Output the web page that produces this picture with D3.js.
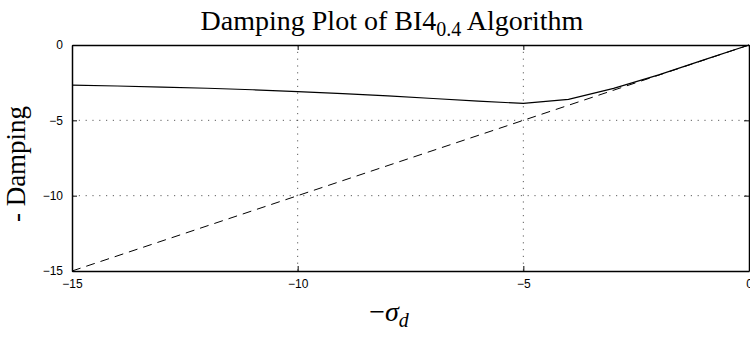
<!DOCTYPE html>
<html>
<head>
<meta charset="utf-8">
<script src="https://cdn.jsdelivr.net/npm/d3@7"></script>
<style>
  html, body { margin: 0; padding: 0; background: #fff; overflow: hidden; }
  svg { display: block; }
</style>
</head>
<body>
<svg id="chart" width="750" height="345"></svg>
<script>
// ---- data ----
const sigmaValues = [-15, -14, -13, -12, -11, -10, -9, -8, -7, -6, -5, -4, -3, -2, -1, 0];
const dampingValues = [-2.66, -2.72, -2.79, -2.87, -2.97, -3.09, -3.23, -3.38, -3.55, -3.72, -3.88, -3.61, -2.88, -1.98, -0.99, 0];
const referenceX = [-15, 0];
const referenceY = [-15, 0];
const xTicks = [-15, -10, -5, 0];
const yTicks = [-15, -10, -5, 0];

// ---- layout ----
const plotLeft = 72, plotRight = 749, plotTop = 45, plotBottom = 271;
const svg = d3.select("#chart");
const x = d3.scaleLinear().domain([-15, 0]).range([plotLeft, plotRight]);
const y = d3.scaleLinear().domain([-15, 0]).range([plotBottom, plotTop]);
const fmt = d => d < 0 ? "\u2212" + Math.abs(d) : String(d);

// grid
const grid = svg.append("g").attr("stroke", "#333").attr("stroke-width", 0.8)
  .attr("stroke-dasharray", "1.2,5.6");
grid.selectAll(".gx").data(xTicks.filter(d => d > -15 && d < 0)).join("line")
  .attr("x1", d => x(d)).attr("x2", d => x(d)).attr("y1", plotTop).attr("y2", plotBottom);
grid.selectAll(".gy").data(yTicks.filter(d => d > -15 && d < 0)).join("line")
  .attr("y1", d => y(d)).attr("y2", d => y(d)).attr("x1", plotLeft).attr("x2", plotRight);

// lines
const line = d3.line().x(d => x(d[0])).y(d => y(d[1]));
svg.append("path")
  .datum(referenceX.map((v, i) => [v, referenceY[i]]))
  .attr("d", line).attr("fill", "none").attr("stroke", "#000")
  .attr("stroke-width", 1).attr("stroke-dasharray", "9,6");
svg.append("path")
  .datum(sigmaValues.map((v, i) => [v, dampingValues[i]]))
  .attr("d", line).attr("fill", "none").attr("stroke", "#000")
  .attr("stroke-width", 1.2);

// axes (MATLAB style box, inward ticks)
const xAxisB = d3.axisBottom(x).tickValues(xTicks).tickFormat(fmt).tickSizeInner(-5).tickSizeOuter(0).tickPadding(8);
const xAxisT = d3.axisTop(x).tickValues(xTicks).tickFormat("").tickSizeInner(-5).tickSizeOuter(0);
const yAxisL = d3.axisLeft(y).tickValues(yTicks).tickFormat(fmt).tickSizeInner(-5).tickSizeOuter(0).tickPadding(9);
const yAxisR = d3.axisRight(y).tickValues(yTicks).tickFormat("").tickSizeInner(-5).tickSizeOuter(0);

function style(g) {
  g.selectAll(".domain").attr("stroke", "#000").attr("stroke-width", 1.5);
  g.selectAll(".tick line").attr("stroke", "#000").attr("stroke-width", 1);
  g.selectAll(".tick text").attr("fill", "#000")
    .attr("font-family", "'Liberation Sans', Arial, sans-serif").attr("font-size", 12);
}
svg.append("g").attr("transform", `translate(0,${plotBottom})`).call(xAxisB).call(style);
svg.append("g").attr("transform", `translate(0,${plotTop})`).call(xAxisT).call(style);
svg.append("g").attr("transform", `translate(${plotLeft},0)`).call(yAxisL).call(style);
svg.append("g").attr("transform", `translate(${plotRight},0)`).call(yAxisR).call(style);

// title
const serif = "'Liberation Serif', 'Times New Roman', serif";
const title = svg.append("text").attr("x", 392).attr("y", 30)
  .attr("text-anchor", "middle").attr("font-family", serif).attr("font-size", 28).attr("fill", "#000");
title.append("tspan").text("Damping Plot of BI4");
title.append("tspan").attr("font-size", 20).attr("dy", 6).text("0.4");
title.append("tspan").attr("dy", -6).text(" Algorithm");

// x label
const xl = svg.append("text").attr("x", 389).attr("y", 321)
  .attr("text-anchor", "middle").attr("font-family", serif).attr("font-size", 28).attr("fill", "#000");
xl.append("tspan").text("\u2212");
xl.append("tspan").attr("font-style", "italic").text("\u03C3");
xl.append("tspan").attr("font-style", "italic").attr("font-size", 20).attr("dy", 6).text("d");

// y label
svg.append("text").attr("transform", "translate(25,164) rotate(-90)")
  .attr("text-anchor", "middle").attr("font-family", serif).attr("font-size", 27).attr("fill", "#000")
  .text("- Damping");
</script>
</body>
</html>
